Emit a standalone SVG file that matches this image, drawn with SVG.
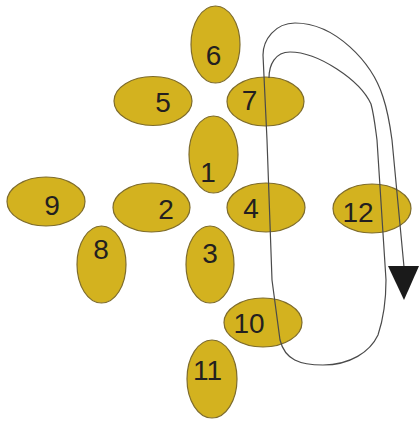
<svg xmlns="http://www.w3.org/2000/svg" width="420" height="421" viewBox="0 0 420 421">
  <style>
    .node ellipse { fill: #d3b21f; stroke: #7e6c2c; stroke-width: 1.2; }
    .node text { font-family: "Liberation Sans", Arial, sans-serif; font-size: 28px; fill: #231f20; text-anchor: middle; }
    .wire { fill: none; stroke: #4a4a4a; stroke-width: 1.2; }
  </style>
  <rect width="420" height="421" fill="#ffffff"/>

  <g id="node-6" class="node"><ellipse cx="215.5" cy="44.5" rx="24.5" ry="38.5"/><text x="213.5" y="65">6</text></g>
  <g id="node-5" class="node"><ellipse cx="153" cy="101" rx="39" ry="24.5"/><text x="163" y="112">5</text></g>
  <g id="node-7" class="node"><ellipse cx="265.5" cy="101.5" rx="38.5" ry="24.5"/><text x="249.5" y="110">7</text></g>
  <g id="node-1" class="node"><ellipse cx="213.5" cy="154.5" rx="24.5" ry="38.5"/><text x="208" y="182">1</text></g>
  <g id="node-9" class="node"><ellipse cx="46" cy="201.5" rx="39" ry="24.5"/><text x="52" y="215">9</text></g>
  <g id="node-2" class="node"><ellipse cx="151.5" cy="207.5" rx="38.5" ry="24.5"/><text x="166" y="219">2</text></g>
  <g id="node-4" class="node"><ellipse cx="266" cy="207.5" rx="39" ry="24.5"/><text x="251" y="218">4</text></g>
  <g id="node-12" class="node"><ellipse cx="372" cy="208.5" rx="39" ry="24.5"/><text x="358" y="222">12</text></g>
  <g id="node-8" class="node"><ellipse cx="101.5" cy="264.5" rx="24.5" ry="38.5"/><text x="101" y="259">8</text></g>
  <g id="node-3" class="node"><ellipse cx="210" cy="264.5" rx="24" ry="38.5"/><text x="210" y="263">3</text></g>
  <g id="node-10" class="node"><ellipse cx="263" cy="322.5" rx="39" ry="24.5"/><text x="249" y="333">10</text></g>
  <g id="node-11" class="node"><ellipse cx="212" cy="379" rx="25" ry="39"/><text x="207.5" y="380">11</text></g>

  <g id="connectors">
    <!-- one continuous spiral: inner loop first, then outer loop ending at the arrow -->
    <path class="wire" d="M269,78 C269,65 275,52 290,52 C318,52 360,80 371,104 C374,115 375,125 377,140 L386,280 C386,300 383,320 378,335 C370,352 350,365 323,365 C300,365 285,360 280,340 L272,280 L267,140 L263,55 C263,40 275,23 295,23 C335,23 372,62 383,97 C388,112 390,125 392,140 L404,267"/>
    <polygon points="388,266 419,266 404,300" fill="#1a1a1a"/>
  </g>
</svg>
